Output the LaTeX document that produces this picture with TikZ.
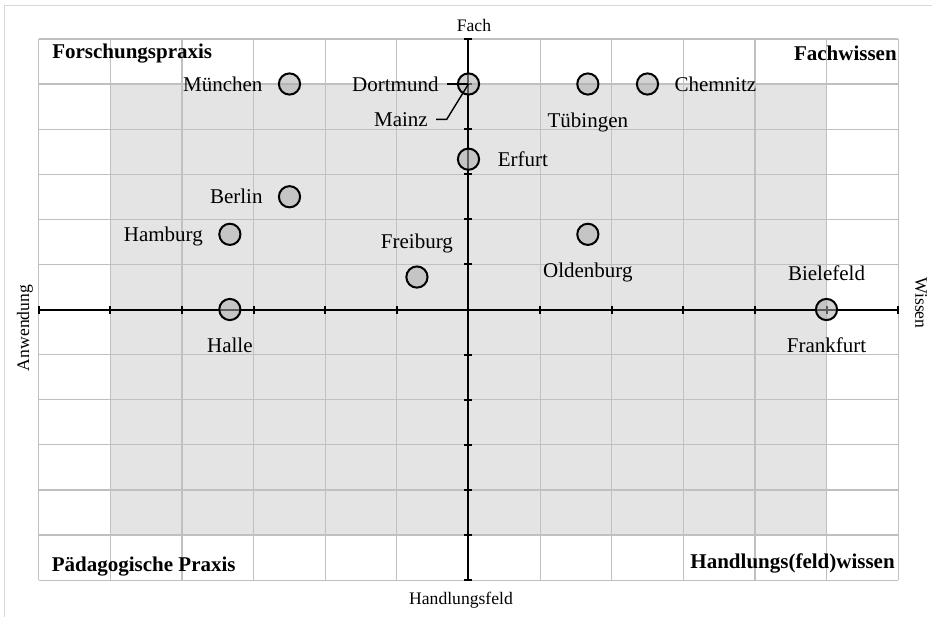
\documentclass[tikz,border=0pt]{standalone}
\usepackage{fontspec}
\setmainfont{Liberation Serif}
\usetikzlibrary{positioning}
\definecolor{gridgray}{RGB}{192,192,192}
\definecolor{areagray}{RGB}{228,228,228}
\definecolor{framegray}{RGB}{217,217,217}
\definecolor{dotgray}{RGB}{171,171,171}

\begin{document}
\begin{tikzpicture}[x=35.8pt,y=22.55pt,node distance=7.5pt,
    city/.style={circle,draw,line width=1pt,fill=dotgray,fill opacity=.54,minimum size=10.6pt,inner sep=0pt},
    citylabel/.style={inner sep=0pt,text height=8pt,text depth=1pt,font=\fontsize{10.5}{12}\selectfont},
    corner/.style={inner sep=0pt,font=\fontsize{10.5}{12}\selectfont\bfseries},
    axtitle/.style={inner sep=0pt,font=\fontsize{8.8}{10}\selectfont},
    leader/.style={line width=.7pt}]
    \useasboundingbox (-234.25pt,-153.75pt) rectangle (231.75pt,154.75pt);
    % frame
    \draw[framegray,line width=.5pt] (231.75pt,152.25pt) -- (-231.75pt,152.25pt) -- (-231.75pt,-153.75pt);
    % shaded area and grid
    \fill[areagray] (-5,-5) rectangle (5,5);
    \foreach \k in {-6,...,6} {
        \draw[gridgray,line width=.6pt] (\k,-6) -- (\k,6);
        \draw[gridgray,line width=.6pt] (-6,\k) -- (6,\k);
    }
    % axes
    \draw[line width=1pt] (-6,0) -- (6,0);
    \draw[line width=1pt] (0,-6) -- (0,6);
    \foreach \k in {-6,...,6} {
        \draw[line width=1pt] (\k,0) ++(0,-2pt) -- ++(0,4pt);
        \draw[line width=1pt] (0,\k) ++(-2pt,0) -- ++(4pt,0);
    }
    \node[axtitle] (fach) at (2.75pt,142.25pt) {Fach};
    \node[axtitle] (hfeld) at (-3.75pt,-145.25pt) {Handlungsfeld};
    \node[axtitle,rotate=90] (anw) at (-221.75pt,-9.25pt) {Anwendung};
    \node[axtitle,rotate=-90] (wissen) at (226.25pt,3.25pt) {Wissen};
    % corners
    \node[corner,anchor=base west,xshift=6.5pt,yshift=-10pt] (fpraxis) at (-6,6) {Forschungspraxis};
    \node[corner,anchor=base east,xshift=-.5pt,yshift=-10.8pt] (fwissen) at (6,6) {Fachwissen};
    \node[corner,anchor=base west,xshift=6.3pt,yshift=4.2pt] (ppraxis) at (-6,-6) {Pädagogische Praxis};
    \node[corner,anchor=base east,xshift=-1.5pt,yshift=5.8pt] (hwissen) at (6,-6) {Handlungs(feld)wissen};
    % locations
    \node[city] (muenchen) at (-2.5,5) {};
    \node[city] (dortmund) at (0,5) {};
    \node[city] (tuebingen) at (1.667,5) {};
    \node[city] (chemnitz) at (2.5,5) {};
    \node[city] (erfurt) at (0,3.333) {};
    \node[city] (berlin) at (-2.5,2.5) {};
    \node[city] (hamburg) at (-3.333,1.667) {};
    \node[city] (halle) at (-3.333,0) {};
    \node[city] (freiburg) at (-0.72,0.72) {};
    \node[city] (oldenburg) at (1.667,1.667) {};
    \node[city] (bielefeld) at (5,0) {};
    \coordinate (mz) at (-0.304,4.217);
    % labels
    \node[citylabel,left=of muenchen] (muenchen-l) {München};
    \node[citylabel,left=9pt of dortmund] (dortmund-l) {Dortmund};
    \node[citylabel,left=9.3pt of mz] (mainz-l) {Mainz};
    \node[citylabel,below=of tuebingen] (tuebingen-l) {Tübingen};
    \node[citylabel,right=of chemnitz] (chemnitz-l) {Chemnitz};
    \node[citylabel,right=8.7pt of erfurt] (erfurt-l) {Erfurt};
    \node[citylabel,left=of berlin] (berlin-l) {Berlin};
    \node[citylabel,left=of hamburg] (hamburg-l) {Hamburg};
    \node[citylabel,below=of halle] (halle-l) {Halle};
    \node[citylabel,above=of freiburg] (freiburg-l) {Freiburg};
    \node[citylabel,below=of oldenburg] (oldenburg-l) {Oldenburg};
    \node[citylabel,above=of bielefeld] (bielefeld-l) {Bielefeld};
    \node[citylabel,below=of bielefeld] (frankfurt-l) {Frankfurt};
    \draw[leader] ([xshift=4.3pt]dortmund-l.east) -- (dortmund.center);
    \draw[leader] ([xshift=4pt]mainz-l.east) -- (mz) -- (dortmund.center);
\end{tikzpicture}
\end{document}
